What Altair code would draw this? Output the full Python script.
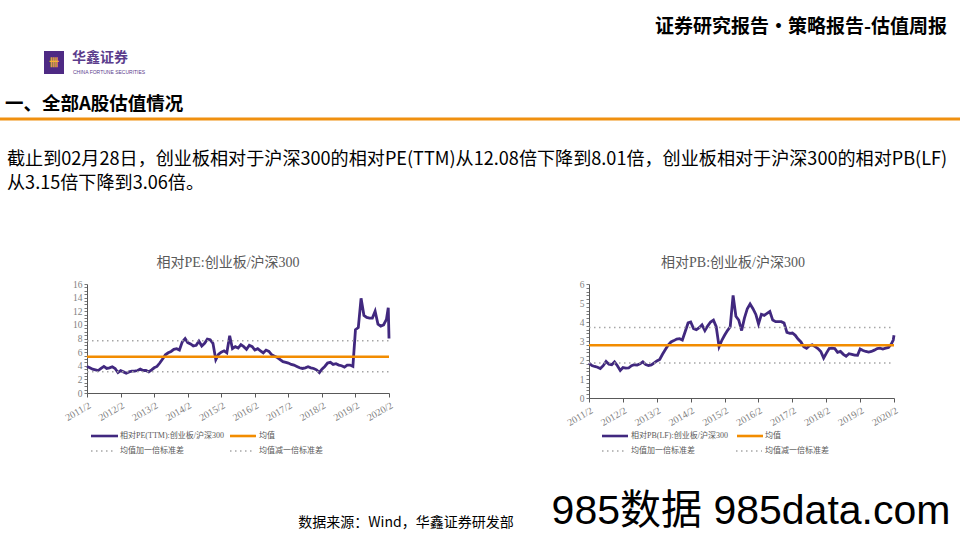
import altair as alt
import pandas as pd

# ---------------- data ----------------
pe_values = [3.9, 3.7, 3.5, 3.4, 3.3, 3.6, 3.9, 3.6, 3.7, 3.85, 3.6, 3.0,
             3.3, 3.1, 2.9, 3.1, 3.2, 3.2, 3.3, 3.5, 3.3, 3.3, 3.1, 3.4,
             3.7, 3.9, 4.4, 5.0, 5.6, 5.9, 6.1, 6.4, 6.5, 6.3, 7.5, 8.0,
             7.4, 7.2, 6.9, 7.0, 7.6, 6.9, 7.3, 7.9, 7.8, 7.3, 4.9, 5.7,
             6.0, 6.2, 5.9, 8.4, 6.5, 6.8, 6.6, 7.1, 6.8, 6.4, 7.0, 6.8,
             6.3, 6.5, 6.2, 5.9, 6.3, 6.1, 5.6, 5.4, 5.2, 4.9, 4.6, 4.5,
             4.4, 4.2, 4.1, 3.9, 3.7, 3.6, 3.7, 3.85, 3.7, 3.6, 3.4, 3.0,
             3.5, 3.9, 4.4, 4.5, 4.2, 4.3, 4.1, 4.0, 3.8, 4.1, 4.1, 3.9,
             9.3, 9.6, 13.9, 11.4, 11.1, 11.0, 11.0, 12.0, 10.1, 9.8, 10.0, 10.8]
pb_values = [1.84, 1.71, 1.66, 1.62, 1.55, 1.70, 1.92, 1.78, 1.75, 1.90, 1.70, 1.45,
             1.60, 1.57, 1.58, 1.70, 1.75, 1.73, 1.80, 1.90, 1.76, 1.71, 1.74, 1.85,
             1.95, 2.03, 2.30, 2.55, 2.78, 2.95, 3.02, 3.10, 3.12, 3.05, 3.50, 3.95,
             4.00, 3.65, 3.60, 3.70, 3.85, 3.55, 3.80, 4.00, 4.10, 3.75, 2.70, 3.05,
             3.30, 3.55, 3.75, 5.40, 4.30, 4.10, 3.55, 4.20, 4.70, 4.95, 4.70, 4.40,
             3.90, 4.40, 4.35, 4.45, 4.55, 4.10, 4.02, 4.02, 4.02, 3.95, 3.45, 3.40,
             3.42, 3.30, 3.10, 2.95, 2.70, 2.62, 2.75, 2.80, 2.70, 2.60, 2.45, 2.10,
             2.35, 2.60, 2.62, 2.60, 2.40, 2.45, 2.30, 2.20, 2.33, 2.30, 2.26, 2.25,
             2.58, 2.50, 2.45, 2.42, 2.45, 2.52, 2.60, 2.62, 2.58, 2.62, 2.66, 2.85]
tail_dates = ["2020-02-20", "2020-02-28"]
pe_tail = [12.5, 8.0]
pb_tail = [3.05, 3.3]

pe_levels = {"mean": 5.33, "upper": 7.66, "lower": 3.12}
pb_levels = {"mean": 2.78, "upper": 3.71, "lower": 1.84}
years = list(range(2011, 2021))
# y-axis tick positions (minor + major); labelled ones are every 2 (PE) / every 1 (PB)
pe_ticks = [i * 0.5 for i in range(33)]
pb_ticks = [round(i * 0.2, 1) for i in range(31)]
pe_label_step = 2
pb_label_step = 1

# ---------------- styles ----------------
PURPLE = "#41287F"
ORANGE = "#F28C00"
DOT = "#A6A6A6"
AXIS_C = "#595959"
LAB_C = "#7F7F7F"
SERIF_CJK = "Liberation Serif, Noto Sans CJK SC"
SANS_CJK = "Noto Sans CJK SC"

months = list(pd.date_range("2011-02-28", periods=len(pe_values), freq="ME"))
dates = months + list(pd.to_datetime(tail_dates))
pe_df = pd.DataFrame({"date": dates, "v": pe_values + pe_tail})
pb_df = pd.DataFrame({"date": dates, "v": pb_values + pb_tail})
start, end = pd.Timestamp("2011-02-28"), pd.Timestamp("2020-02-28")


def levels_df(lv):
    return pd.DataFrame({"start": [start] * 3, "end": [end] * 3,
                         "v": [lv["mean"], lv["upper"], lv["lower"]],
                         "kind": ["mean", "upper", "lower"]})


tick_vals = [alt.DateTime(year=y, month=2, date=28) for y in years]
x_dom = [alt.DateTime(year=2011, month=2, date=28), alt.DateTime(year=2020, month=2, date=28)]


def panel(df, lv, x_range, y_range, y_dom, y_vals, step, y_axis_x, x_axis_y):
    xs = alt.Scale(domain=x_dom, range=x_range)
    ys = alt.Scale(domain=y_dom, range=y_range, nice=False, zero=True)
    xa = alt.Axis(values=tick_vals, format="%Y/%-m", formatType="time", orient="bottom",
                  offset=-(540 - x_axis_y), grid=False, tickSize=4, labelAngle=-30,
                  labelAlign="right", labelBaseline="top", labelPadding=3,
                  labelOverlap=False, domainColor=AXIS_C, tickColor=AXIS_C,
                  labelColor=LAB_C, labelFont="Liberation Serif", labelFontSize=10,
                  title=None)
    label_expr = (f"abs(datum.value/{step} - round(datum.value/{step})) < 0.001 "
                  f"? format(datum.value, 'd') : ''")
    ya = alt.Axis(values=y_vals, orient="left", offset=-y_axis_x, grid=False, tickSize=3,
                  labelPadding=2, domainColor=AXIS_C, tickColor=AXIS_C, labelColor=LAB_C,
                  labelFont="Liberation Serif", labelFontSize=9.5, title=None,
                  labelExpr=label_expr, labelOverlap=False, tickWidth=0.8)
    lvd = levels_df(lv)
    line = alt.Chart(df).mark_line(color=PURPLE, strokeWidth=2.8).encode(
        x=alt.X("date:T", scale=xs, axis=xa),
        y=alt.Y("v:Q", scale=ys, axis=ya),
    )
    band = alt.Chart(lvd).transform_filter("datum.kind != 'mean'").mark_rule(
        color=DOT, strokeWidth=1.4, strokeDash=[1.5, 3.5]).encode(
        x=alt.X("start:T", scale=xs, axis=xa), x2="end:T",
        y=alt.Y("v:Q", scale=ys, axis=ya),
    )
    mean = alt.Chart(lvd).transform_filter("datum.kind == 'mean'").mark_rule(
        color=ORANGE, strokeWidth=2.6).encode(
        x=alt.X("start:T", scale=xs, axis=xa), x2="end:T",
        y=alt.Y("v:Q", scale=ys, axis=ya),
    )
    return alt.layer(line, band, mean)


pe_panel = panel(pe_df, pe_levels, [87, 389], [393, 284], [0, 16], pe_ticks,
                 pe_label_step, 87, 393)
pb_panel = panel(pb_df, pb_levels, [589, 894], [398, 284], [0, 6], pb_ticks,
                 pb_label_step, 589, 398)

one = pd.DataFrame({"a": [0]})


def txt(s, x, y, size, color="#000000", font=SANS_CJK, weight="normal",
        align="left", baseline="middle"):
    return alt.Chart(one).mark_text(text=s, fontSize=size, color=color, font=font,
                                    fontWeight=weight, align=align, baseline=baseline).encode(
        x=alt.value(x), y=alt.value(y))


def hrule(x1, x2, y, color, width, dash=None):
    kw = dict(color=color, strokeWidth=width)
    if dash:
        kw["strokeDash"] = dash
    return alt.Chart(one).mark_rule(**kw).encode(x=alt.value(x1), x2=alt.value(x2), y=alt.value(y))


deco = [
    txt("证券研究报告·策略报告-估值周报", 947, 27, 19, weight="bold", align="right"),
    alt.Chart(one).mark_rect(color="#4E2A84").encode(
        x=alt.value(44), x2=alt.value(64), y=alt.value(51), y2=alt.value(74)),
    txt("卌", 54, 63, 10, color="#F5B335", weight="bold", align="center"),
    txt("华鑫证券", 72, 58, 14, color="#5B3C8C", weight="bold"),
    txt("CHINA FORTUNE SECURITIES", 73, 72, 5, color="#5B3C8C", font="Liberation Sans"),
    txt("一、全部A股估值情况", 5, 104, 18.5, weight="bold"),
    hrule(0, 960, 119, "#F0900F", 3),
    txt("截止到02月28日，创业板相对于沪深300的相对PE(TTM)从12.08倍下降到8.01倍，创业板相对于沪深300的相对PB(LF)",
        7, 160, 18.1),
    txt("从3.15倍下降到3.06倍。", 7, 184, 18.1),
    txt("相对PE:创业板/沪深300", 228, 263, 14, color=AXIS_C, font=SERIF_CJK, align="center"),
    txt("相对PB:创业板/沪深300", 733, 263, 14, color=AXIS_C, font=SERIF_CJK, align="center"),
    # PE legend
    hrule(91, 118, 436, PURPLE, 2.6),
    txt("相对PE(TTM):创业板/沪深300", 120, 436, 8, color=AXIS_C, font=SERIF_CJK),
    hrule(230, 256, 436, ORANGE, 2.6),
    txt("均值", 259, 436, 8, color=AXIS_C, font=SERIF_CJK),
    hrule(91, 116, 451, DOT, 1.4, [1.5, 3.5]),
    txt("均值加一倍标准差", 120, 451, 8, color=AXIS_C, font=SERIF_CJK),
    hrule(230, 255, 451, DOT, 1.4, [1.5, 3.5]),
    txt("均值减一倍标准差", 259, 451, 8, color=AXIS_C, font=SERIF_CJK),
    # PB legend
    hrule(602, 628, 436, PURPLE, 2.6),
    txt("相对PB(LF):创业板/沪深300", 631, 436, 8, color=AXIS_C, font=SERIF_CJK),
    hrule(737, 763, 436, ORANGE, 2.6),
    txt("均值", 765, 436, 8, color=AXIS_C, font=SERIF_CJK),
    hrule(602, 627, 451, DOT, 1.4, [1.5, 3.5]),
    txt("均值加一倍标准差", 631, 451, 8, color=AXIS_C, font=SERIF_CJK),
    hrule(736, 762, 451, DOT, 1.4, [1.5, 3.5]),
    txt("均值减一倍标准差", 765, 451, 8, color=AXIS_C, font=SERIF_CJK),
    # footer
    txt("数据来源：Wind，华鑫证券研发部", 406, 523, 14, align="center"),
    txt("985数据 985data.com", 751, 512, 41, font="Liberation Sans, Noto Sans CJK SC", align="center"),
]

chart = alt.layer(*deco, pe_panel, pb_panel).resolve_scale(
    x="independent", y="independent"
).properties(
    width=960, height=540, autosize=alt.AutoSizeParams(type="none"), padding=0,
    background="white",
).configure_view(stroke=None)

chart.save("out.html", embed_options={"renderer": "svg", "actions": False})
